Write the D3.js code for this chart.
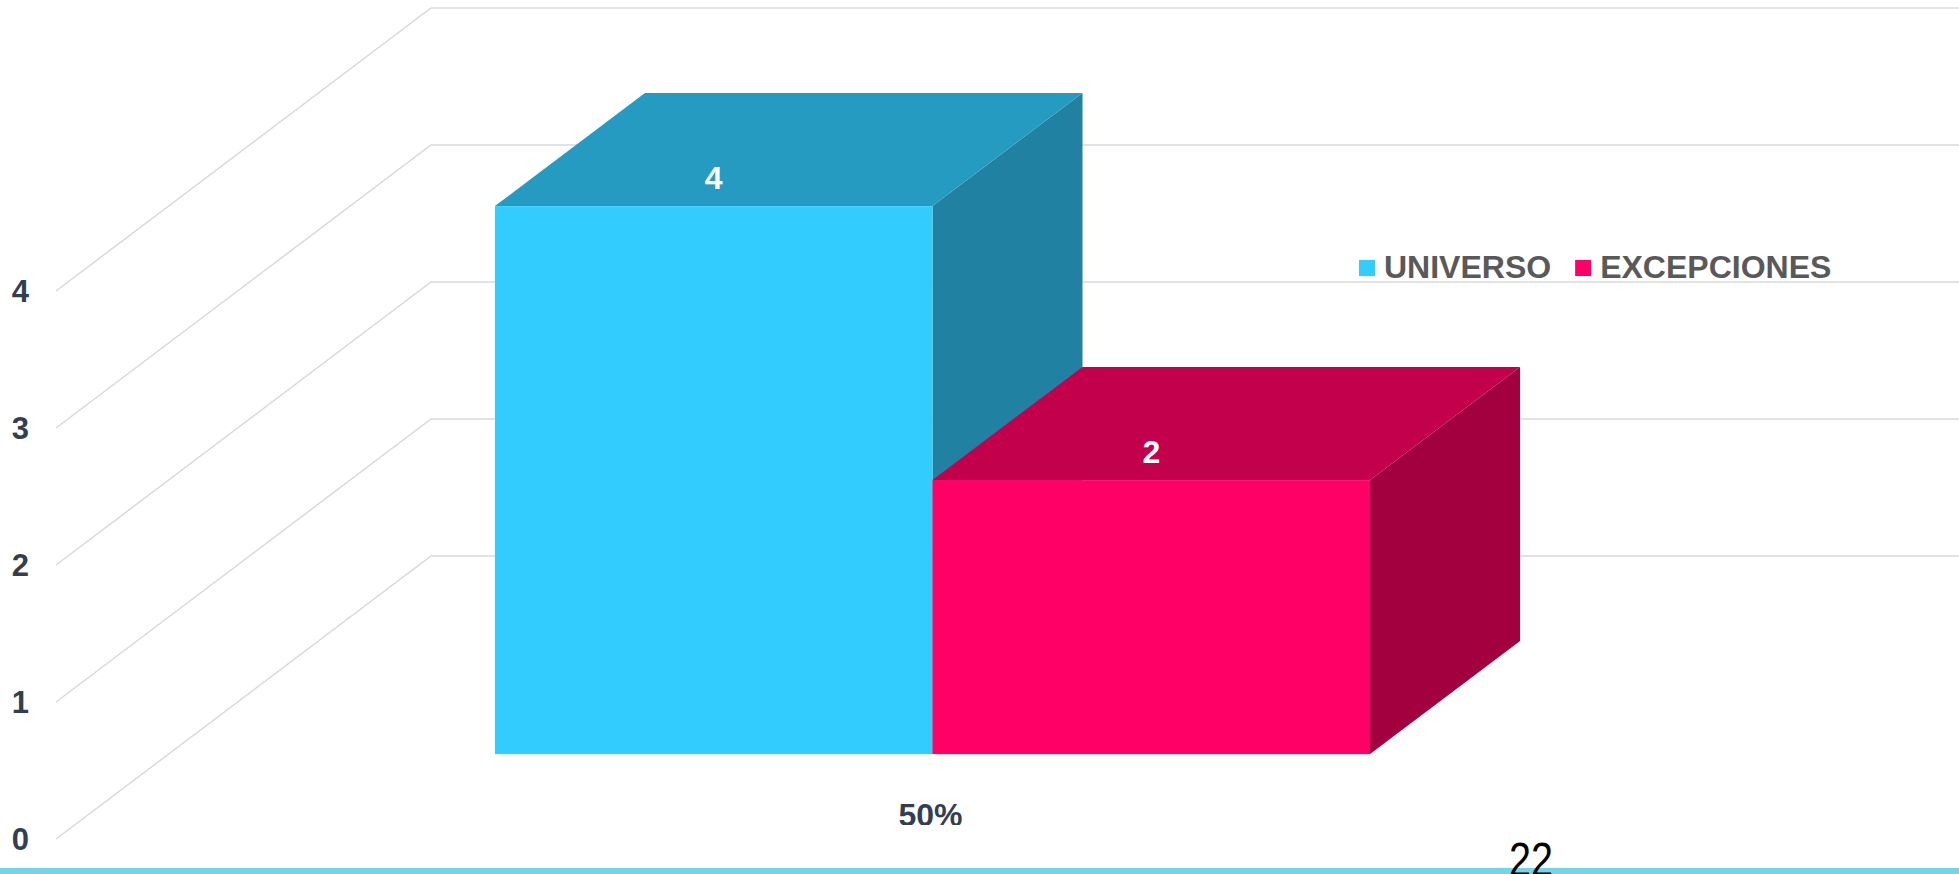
<!DOCTYPE html>
<html>
<head>
<meta charset="utf-8">
<script src="https://cdn.jsdelivr.net/npm/d3@7"></script>
<style>
  html, body { margin: 0; padding: 0; background: #fff; overflow: hidden; }
  svg { display: block; }
</style>
</head>
<body>
<script>
"use strict";

// chart data
const categories = ["50%"];
const seriesNames = ["UNIVERSO", "EXCEPCIONES"];
const seriesValues = [4, 2];
const yTicks = [0, 1, 2, 3, 4];
const slideNumber = "22";

const colors = {
    UNIVERSO:    { front: "#33ccff", top: "#259bc2", side: "#2181a3" },
    EXCEPCIONES: { front: "#ff0066", top: "#c2004c", side: "#a3003f" }
};

const wSvg = 1959, hSvg = 874;
const x0 = 56;                 // front-left corner of the floor
const depthX = 375, depthY = 283;
const chartW = wSvg - x0 - depthX;
const tFront = 0.3, tBack = 0.7;   // bar position in depth

let yScale = d3.scaleLinear().domain([0, 4]).range([839, 291]);
let xBand = d3.scaleBand().domain(categories).range([0, chartW])
    .paddingInner(0).paddingOuter(0.373);
let xSub = d3.scaleBand().domain(seriesNames).range([0, xBand.bandwidth()]).padding(0);

function proj(x, v, t) {
    return [x0 + x + t * depthX, yScale(v) - t * depthY];
}

let svg = d3.select("body").append("svg")
    .attr("width", wSvg).attr("height", hSvg);

// gridlines: side wall + back wall
let gGrid = svg.append("g");
yTicks.forEach(v => {
    let a = proj(0, v, 0), b = proj(0, v, 1);
    gGrid.append("polyline")
        .attr("points", [a, b, [wSvg, b[1]]].map(p => p.join(",")).join(" "))
        .attr("fill", "none")
        .attr("stroke", "#d9d9d9")
        .attr("stroke-width", 1.5);
});

// y labels
svg.append("g").selectAll("text")
    .data(yTicks)
    .enter()
    .append("text")
    .text(d => d)
    .attr("x", 29)
    .attr("y", d => yScale(d))
    .attr("dy", "0.36em")
    .attr("text-anchor", "end")
    .attr("font-family", "'Liberation Sans', Arial, sans-serif")
    .attr("font-weight", "bold")
    .attr("font-size", 31)
    .attr("fill", "#333f50");

// bars
let bars = [];
categories.forEach(cat => {
    seriesNames.forEach((s, i) => {
        let xa = xBand(cat) + xSub(s);
        let xb = xa + xSub.bandwidth();
        bars.push({ cat: cat, name: s, value: seriesValues[i], xa: xa, xb: xb });
    });
});

let gBars = svg.append("g");
bars.forEach(d => {
    let c = colors[d.name];
    let g = gBars.append("g");
    let pts = p => p.map(q => q.join(",")).join(" ");
    g.append("polygon")
        .attr("points", pts([proj(d.xb, 0, tFront), proj(d.xb, d.value, tFront),
                             proj(d.xb, d.value, tBack), proj(d.xb, 0, tBack)]))
        .attr("fill", c.side);
    g.append("polygon")
        .attr("points", pts([proj(d.xa, d.value, tFront), proj(d.xb, d.value, tFront),
                             proj(d.xb, d.value, tBack), proj(d.xa, d.value, tBack)]))
        .attr("fill", c.top);
    let fTop = proj(d.xa, d.value, tFront), fBot = proj(d.xb, 0, tFront);
    g.append("rect")
        .attr("x", fTop[0]).attr("y", fTop[1])
        .attr("width", fBot[0] - fTop[0])
        .attr("height", fBot[1] - fTop[1])
        .attr("fill", c.front);
    g.append("text")
        .text(d.value)
        .attr("x", (fTop[0] + fBot[0]) / 2)
        .attr("y", fTop[1] - 17)
        .attr("text-anchor", "middle")
        .attr("font-family", "'Liberation Sans', Arial, sans-serif")
        .attr("font-weight", "bold")
        .attr("font-size", 32)
        .attr("fill", "#ffffff");
});

// category label (clipped at the bottom like the original)
svg.append("clipPath").attr("id", "catclip")
    .append("rect").attr("x", 0).attr("y", 0).attr("width", wSvg).attr("height", 825);
svg.append("g").attr("clip-path", "url(#catclip)")
    .selectAll("text")
    .data(categories)
    .enter()
    .append("text")
    .text(d => d)
    .attr("x", d => proj(xBand(d) + xBand.bandwidth() / 2, 0, tFront)[0] - 2)
    .attr("y", 826)
    .attr("text-anchor", "middle")
    .attr("font-family", "'Liberation Sans', Arial, sans-serif")
    .attr("font-weight", "bold")
    .attr("font-size", 32)
    .attr("fill", "#333f50");

// legend
let gLegend = svg.append("g");
let lx = 1359;
seriesNames.forEach(s => {
    gLegend.append("rect")
        .attr("x", lx).attr("y", 260)
        .attr("width", 16).attr("height", 16)
        .attr("fill", colors[s].front);
    let t = gLegend.append("text")
        .text(s)
        .attr("x", lx + 25)
        .attr("y", 278)
        .attr("font-family", "'Liberation Sans', Arial, sans-serif")
        .attr("font-weight", "bold")
        .attr("font-size", 32)
        .attr("fill", "#595959");
    lx = lx + 25 + t.node().getComputedTextLength() + 24;
});

// bottom strip and slide number
svg.append("rect")
    .attr("x", 0).attr("y", 868)
    .attr("width", wSvg).attr("height", 6)
    .attr("fill", "#72d5ea");

svg.append("text")
    .text(slideNumber)
    .attr("x", 1509)
    .attr("y", 876)
    .attr("textLength", 44)
    .attr("lengthAdjust", "spacingAndGlyphs")
    .attr("font-family", "'Liberation Sans Narrow', 'Liberation Sans', Arial, sans-serif")
    .attr("font-size", 48)
    .attr("fill", "#000000");
</script>
</body>
</html>
